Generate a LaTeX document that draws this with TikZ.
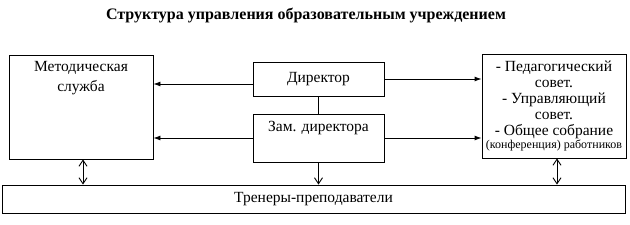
\documentclass[tikz,border=0pt]{standalone}
\usepackage{fontspec}
\setmainfont{Liberation Serif}
\usetikzlibrary{arrows.meta,positioning}
\tikzset{>=Latex}
\tikzset{
  box/.style={draw, line width=0.9pt, fill=white, inner sep=0pt, align=center},
  txt/.style={inner sep=0pt, align=center, font=\fontsize{15.5}{20}\selectfont},
  arrow/.style={-{Latex[length=7pt,width=5pt]}, line width=0.9pt},
  openarrow/.style={-{Straight Barb[length=6pt,width=8pt]}, line width=0.9pt},
  dblarrow/.style={{Straight Barb[length=6pt,width=8pt]}-{Straight Barb[length=6pt,width=8pt]}, line width=0.9pt},
}
\begin{document}
\begin{tikzpicture}[x=1pt, y=-1pt]
\useasboundingbox (0,0) rectangle (630,225);

% --- title ---
\node[txt, font=\bfseries\fontsize{16}{18}\selectfont] (title) at (306,15)
{Структура управления образовательным учреждением};

% --- boxes ---
\node[box, minimum width=144pt, minimum height=104pt] (metod) at (81,107) {};
\node[txt, below=7pt of metod.north] (metodtxt) {Методическая\\служба};

\node[box, txt, minimum width=131pt, minimum height=34pt] (dir) at (318.5,79) {Директор};

\node[box, minimum width=131pt, minimum height=48pt] (zam) at (318.5,138) {};
\node[txt, below=7pt of zam.north] (zamtxt) {Зам. директора};

\node[box, txt, font=\fontsize{15.5}{16}\selectfont, minimum width=144pt, minimum height=104pt] (sovet) at (554,106)
{- Педагогический\\совет.\\- Управляющий\\совет.\\- Общее собрание\\[-3pt]{\fontsize{12}{12}\selectfont (конференция) работников}};

\node[box, txt, minimum width=623pt, minimum height=28pt] (trener) at (313.5,199) {Тренеры-преподаватели};

% --- connectors ---
\draw[arrow] ([yshift=-5pt]dir.west) -- ([yshift=-5pt]dir.west -| metod.east);
\draw[arrow] (dir.east) -- (dir.east -| sovet.west);
\draw[arrow] (zam.west) -- (zam.west -| metod.east);
\draw[arrow] (zam.east) -- (zam.east -| sovet.west);
\draw[line width=0.9pt] (dir.south) -- (zam.north);
\draw[openarrow] (zam.south) -- (zam.south |- trener.north);
\draw[dblarrow] ([xshift=2pt]metod.south) -- ([xshift=2pt]metod.south |- trener.north);
\draw[dblarrow] ([xshift=3pt]sovet.south) -- ([xshift=3pt]sovet.south |- trener.north);

\end{tikzpicture}
\end{document}
